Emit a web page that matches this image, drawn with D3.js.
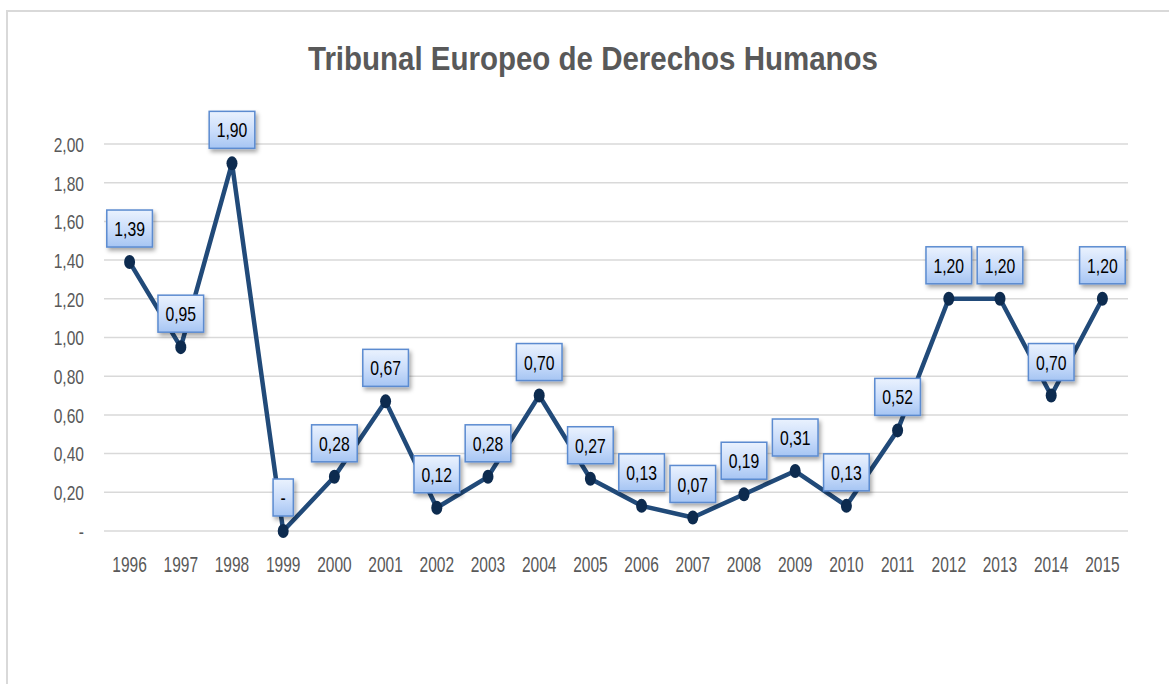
<!DOCTYPE html>
<html>
<head>
<meta charset="utf-8">
<script src="https://cdn.jsdelivr.net/npm/d3@7"></script>
<style>
  html, body { margin: 0; padding: 0; background: #fff; }
  text { font-family: "Liberation Sans", Arial, sans-serif; }
</style>
</head>
<body>
<svg id="chart" width="1169" height="684"></svg>
<script>
// data
const years = ["1996", "1997", "1998", "1999", "2000", "2001", "2002", "2003", "2004", "2005",
  "2006", "2007", "2008", "2009", "2010", "2011", "2012", "2013", "2014", "2015"];
const values = [1.39, 0.95, 1.90, 0, 0.28, 0.67, 0.12, 0.28, 0.70, 0.27,
  0.13, 0.07, 0.19, 0.31, 0.13, 0.52, 1.20, 1.20, 0.70, 1.20];
const yTicks = [0, 0.2, 0.4, 0.6, 0.8, 1.0, 1.2, 1.4, 1.6, 1.8, 2.0];
const title = "Tribunal Europeo de Derechos Humanos";

const margin = { top: 144, right: 41, bottom: 153, left: 104 };
const W = 1169, H = 684;

const es = d3.formatLocale({ decimal: ",", thousands: ".", grouping: [3], currency: ["", "€"] });
const f2 = es.format(".2f");
const fmt = (v) => (v === 0 ? "-" : f2(v));

const svg = d3.select("#chart");

// outer frame (cut off on the right and bottom)
svg.append("rect")
  .attr("x", 7).attr("y", 11)
  .attr("width", 1200).attr("height", 700)
  .attr("fill", "#fff")
  .attr("stroke", "#d9d9d9")
  .attr("stroke-width", 2);

const defs = svg.append("defs");
const grad = defs.append("linearGradient")
  .attr("id", "boxFill").attr("x1", 0).attr("y1", 0).attr("x2", 0).attr("y2", 1);
grad.append("stop").attr("offset", "0%").attr("stop-color", "#eaf2fe");
grad.append("stop").attr("offset", "55%").attr("stop-color", "#c9dcfa");
grad.append("stop").attr("offset", "100%").attr("stop-color", "#a6c5f3");

const shadow = defs.append("filter").attr("id", "shadow")
  .attr("x", "-30%").attr("y", "-30%").attr("width", "160%").attr("height", "160%");
shadow.append("feDropShadow")
  .attr("dx", 2).attr("dy", 3).attr("stdDeviation", 2)
  .attr("flood-color", "#000").attr("flood-opacity", 0.35);

const x = d3.scaleBand().domain(years).range([margin.left, W - margin.right]);
const y = d3.scaleLinear().domain([0, 2]).range([H - margin.bottom, margin.top]);
const cx = (d) => x(d) + x.bandwidth() / 2;

// title
svg.append("text")
  .attr("x", 593).attr("y", 70)
  .attr("text-anchor", "middle")
  .attr("font-size", 33)
  .attr("font-weight", "bold")
  .attr("fill", "#595959")
  .attr("textLength", 570)
  .attr("lengthAdjust", "spacingAndGlyphs")
  .text(title);

// gridlines
svg.append("g")
  .selectAll("line")
  .data(yTicks)
  .join("line")
  .attr("x1", margin.left).attr("x2", W - margin.right)
  .attr("y1", (d) => y(d)).attr("y2", (d) => y(d))
  .attr("stroke", "#d9d9d9")
  .attr("stroke-width", 1.5);

// y axis labels
const yAxis = svg.append("g")
  .attr("transform", "translate(84,0)")
  .call(d3.axisLeft(y).tickValues(yTicks).tickFormat(fmt).tickSize(0).tickPadding(0));
yAxis.select(".domain").remove();
yAxis.selectAll("text")
  .attr("x", 0).attr("dy", "0.36em")
  .attr("font-family", "Liberation Sans, Arial, sans-serif")
  .attr("font-size", 20.5)
  .attr("fill", "#595959")
  .attr("transform", "scale(0.76,1)");

// x axis labels
const xAxis = svg.append("g")
  .attr("transform", "translate(0,572)")
  .call(d3.axisBottom(x).tickSize(0).tickPadding(0));
xAxis.select(".domain").remove();
xAxis.selectAll("text")
  .attr("y", 0).attr("dy", 0)
  .attr("font-family", "Liberation Sans, Arial, sans-serif")
  .attr("font-size", 22.5)
  .attr("fill", "#595959")
  .attr("transform", "scale(0.69,1)");

// line
svg.append("path")
  .datum(years)
  .attr("fill", "none")
  .attr("stroke", "#214a79")
  .attr("stroke-width", 4.5)
  .attr("stroke-linejoin", "round")
  .attr("d", d3.line().x((d) => cx(d)).y((d, i) => y(values[i])));

// markers
svg.append("g")
  .selectAll("ellipse")
  .data(years)
  .join("ellipse")
  .attr("cx", (d) => cx(d))
  .attr("cy", (d, i) => y(values[i]))
  .attr("rx", 5.5).attr("ry", 7)
  .attr("fill", "#0d2b4f");

// data labels
const boxH = 37, gap = 15, pad = 7.5, sx = 0.75;
const labels = svg.append("g")
  .selectAll("g")
  .data(years)
  .join("g")
  .attr("transform", (d, i) => `translate(${cx(d)},${y(values[i]) - gap - boxH / 2})`);

labels.each(function (d, i) {
  const g = d3.select(this);
  const rect = g.append("rect");
  const t = g.append("text")
    .attr("text-anchor", "middle")
    .attr("dy", "0.36em")
    .attr("font-size", 21)
    .attr("fill", "#000")
    .attr("transform", `scale(${sx},1)`)
    .text(fmt(values[i]));
  const w = t.node().getComputedTextLength() * sx + pad * 2;
  rect.attr("x", -w / 2).attr("y", -boxH / 2)
    .attr("width", w).attr("height", boxH)
    .attr("fill", "url(#boxFill)")
    .attr("stroke", "#5b8bd0")
    .attr("stroke-width", 1.5)
    .attr("filter", "url(#shadow)");
});
</script>
</body>
</html>
